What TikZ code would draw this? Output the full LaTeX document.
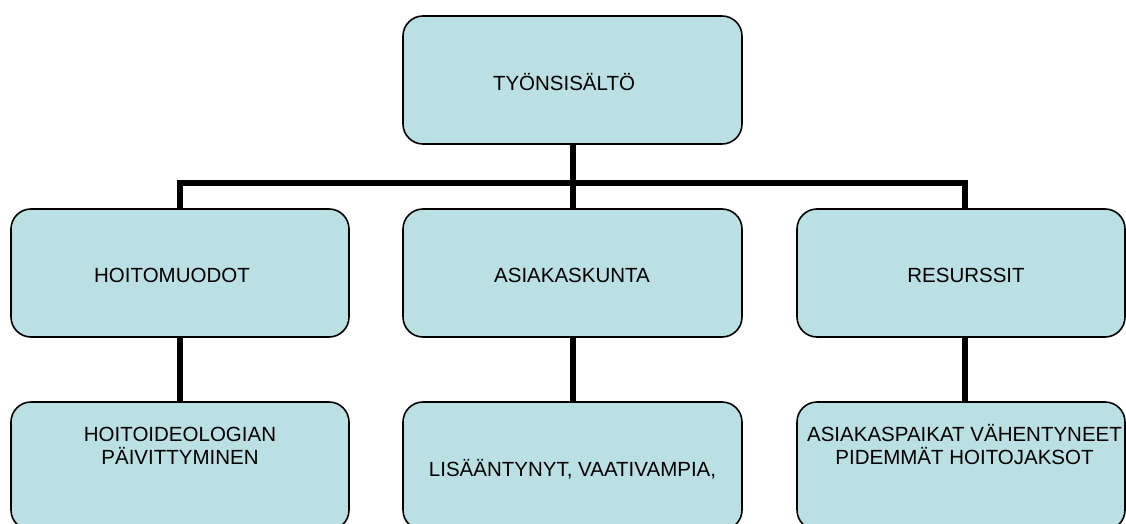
\documentclass[tikz,border=0pt]{standalone}
\usepackage{fontspec}
\setmainfont{Liberation Sans}
\usetikzlibrary{backgrounds}
\definecolor{boxfill}{HTML}{BBE0E3}
\begin{document}
\begin{tikzpicture}[x=1pt,y=-1pt,
  box/.style={draw=black, line width=1.6pt, fill=boxfill, rounded corners=20pt,
    inner sep=0pt, minimum height=128pt},
  conn/.style={draw=black, line width=6pt, line join=miter},
  txt/.style={font=\fontsize{20.5}{22.5}\selectfont, align=center, inner sep=0pt,
    text height=14.7pt, text depth=0pt}]
\useasboundingbox (0,0) rectangle (1126,524);
\clip (0,0) rectangle (1126,524);
% boxes
\node[box, minimum width=339pt] (top) at (572.5,80) {};
\node[box, minimum width=338pt] (m1) at (180,273) {};
\node[box, minimum width=339pt] (m2) at (572.5,273) {};
\node[box, minimum width=328pt] (m3) at (961,273) {};
\node[box, minimum width=338pt] (b1) at (180,466) {};
\node[box, minimum width=339pt] (b2) at (572.5,466) {};
\node[box, minimum width=328pt] (b3) at (961,466) {};
% texts
\node[txt] (ttop) at (564,83) {TYÖNSISÄLTÖ};
\node[txt] (tm1) at (172,275.5) {HOITOMUODOT};
\node[txt] (tm2) at (572,275.5) {ASIAKASKUNTA};
\node[txt] (tm3) at (966,275.5) {RESURSSIT};
\node[txt] (tb1) at (180,457) {HOITOIDEOLOGIAN\\PÄIVITTYMINEN};
\node[txt] (tb2) at (572.5,469.5) {LISÄÄNTYNYT, VAATIVAMPIA,};
\node[txt] (tb3) at (964.5,457) {ASIAKASPAIKAT VÄHENTYNEET\\PIDEMMÄT HOITOJAKSOT};
% connectors
\coordinate (j) at (572.5,183);
\coordinate (jl) at (180,183);
\coordinate (jr) at (965,183);
\begin{scope}[on background layer]
\draw[conn] (top.south) -- (j) -- (m2.north);
\draw[conn] (m1.north) -- (jl) -- (jr) -- (jr |- m3.north);
\draw[conn] (m1.south) -- (b1.north);
\draw[conn] (m2.south) -- (b2.north);
\draw[conn] (jr |- m3.south) -- (jr |- b3.north);
\end{scope}
\end{tikzpicture}
\end{document}
